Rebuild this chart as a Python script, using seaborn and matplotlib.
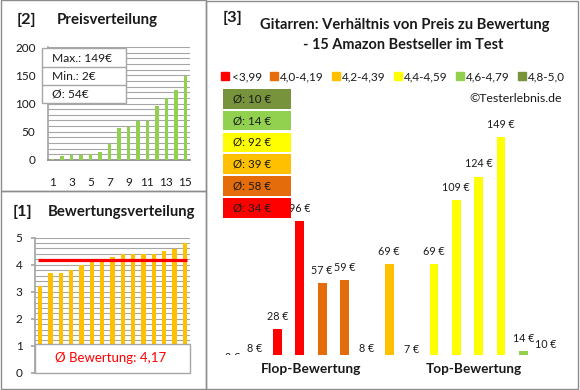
import matplotlib
matplotlib.use("Agg")
import matplotlib.pyplot as plt
from matplotlib.patches import Rectangle
from matplotlib.lines import Line2D
from matplotlib.ticker import MultipleLocator
import seaborn as sns
import pandas as pd

# [3] products ordered by rating -> price in euro and rating class
prices_by_rating = [2, 8, 28, 96, 57, 59, 8, 69, 7, 69, 109, 124, 149, 14, 10]
rating_class = [0, 0, 0, 0, 1, 1, 2, 2, 3, 3, 3, 3, 3, 4, 5]
class_labels = ["<3,99", "4,0-4,19", "4,2-4,39", "4,4-4,59", "4,6-4,79", "4,8-5,0"]
class_colors = ["#FF0000", "#E46C0A", "#FFC000", "#FFFF00", "#92D050", "#77933C"]
class_avg = [34, 58, 39, 92, 14, 10]
group_names = ["Flop-Bewertung", "Top-Bewertung"]

# [1] ratings, sorted
ratings = [3.2, 3.7, 3.7, 3.8, 4.0, 4.1, 4.1, 4.3, 4.4, 4.4, 4.4, 4.4, 4.5, 4.6, 4.8]
avg_rating = 4.17

# [2] prices sorted, x labels
positions = [str(i) for i in range(1, 16)]
prices_sorted = sorted(prices_by_rating)

sns.set_theme(style="white")
plt.rcParams["font.family"] = ["Lato", "DejaVu Sans"]

W, H = 580, 390
TXT = "#1a1a1a"
GRID = "#A6A6A6"
fig = plt.figure(figsize=(W / 100, H / 100), dpi=100)
renderer = fig.canvas.get_renderer()


def box(l, t, r, b):
    return [l / W, 1 - b / H, (r - l) / W, (b - t) / H]


def fit(t, width):
    # scale the font so the text gets the width it has in the original
    w = t.get_window_extent(renderer).width
    t.set_fontsize(t.get_fontsize() * width / w)
    return t


def border(l, t, r, b):
    fig.add_artist(Rectangle((l / W, 1 - b / H), (r - l) / W, (b - t) / H,
                             transform=fig.transFigure, fill=False,
                             ec="#8C8C8C", lw=1))


border(0.5, 0.5, 205.5, 191)
border(0.5, 191, 205.5, 388.5)
border(205.5, 0.5, 578, 388.5)

# ---- [2] Preisverteilung
ax2 = fig.add_axes(box(48, 47, 190, 160))
sns.barplot(x=positions, y=prices_sorted, color="#92D050", width=0.37,
            saturation=1, linewidth=0, ax=ax2)
for p in ax2.patches:
    p.set_zorder(3)
ax2.set_ylim(0, 200)
ax2.set_xlim(-0.5, 14.5)
ax2.yaxis.set_major_locator(MultipleLocator(50))
ax2.yaxis.set_minor_locator(MultipleLocator(10))
ax2.grid(which="both", axis="y", color=GRID, lw=0.8)
ax2.set_axisbelow(True)
ax2.set_xticks(range(0, 15, 2))
ax2.set_xticklabels(positions[::2])
ax2.tick_params(axis="x", length=0, pad=12, labelsize=8.5, labelcolor=TXT)
ax2.tick_params(axis="y", length=0, pad=9, labelsize=8.5, labelcolor=TXT)
ax2.set_xlabel("")
ax2.set_ylabel("")
for s in ["top", "right"]:
    ax2.spines[s].set_visible(False)
ax2.spines["left"].set_color(GRID)
ax2.spines["bottom"].set_color("#8C8C8C")

fit(fig.text(17 / W, 1 - 20 / H, "[2]", fontsize=11, fontweight="bold", color=TXT, va="center"), 20)
fit(fig.text(57 / W, 1 - 20 / H, "Preisverteilung", fontsize=9.5, fontweight="bold",
             color=TXT, va="center"), 101)

# info box
fig.add_artist(Rectangle((42 / W, 1 - 103 / H), 84 / W, 55 / H, transform=fig.transFigure,
                         fc="white", ec=GRID, lw=1))
for yy in [66.5, 84.5]:
    fig.add_artist(Line2D([42 / W, 126 / W], [1 - yy / H] * 2, transform=fig.transFigure,
                          color=GRID, lw=1))
info = [f"Max.: {max(prices_sorted)}€", f"Min.: {min(prices_sorted)}€",
        f"Ø: {sum(prices_sorted) / len(prices_sorted):.0f}€"]
info_fs = None
for txt, yy in zip(info, [58, 76, 94]):
    t = fig.text(52 / W, 1 - yy / H, txt, fontsize=8.5, color=TXT, va="center")
    if info_fs is None:
        info_fs = fit(t, 60).get_fontsize()
    t.set_fontsize(info_fs)

# ---- [1] Bewertungsverteilung
ax1 = fig.add_axes(box(35, 237.7, 190, 372.7))
sns.barplot(x=positions, y=ratings, color="#FFC000", width=0.4, saturation=1,
            linewidth=0, ax=ax1)
for p in ax1.patches:
    p.set_zorder(3)
ax1.set_ylim(0, 5)
ax1.set_xlim(-0.5, 14.5)
ax1.yaxis.set_major_locator(MultipleLocator(1))
ax1.yaxis.set_minor_locator(MultipleLocator(0.2))
ax1.grid(which="both", axis="y", color=GRID, lw=0.8)
ax1.set_axisbelow(True)
ax1.set_xticks([])
ax1.tick_params(axis="y", which="major", length=3, color=GRID, pad=6,
                labelsize=8.5, labelcolor=TXT, left=True)
ax1.tick_params(axis="y", which="minor", length=0)
ax1.set_xlabel("")
ax1.set_ylabel("")
for s in ["top", "right", "bottom"]:
    ax1.spines[s].set_visible(False)
ax1.spines["left"].set_color(GRID)
ax1.hlines(avg_rating, -0.2, 14.2, color="#FF0000", lw=2.3, zorder=4)
ax1.add_patch(Rectangle((0, 0), 1, 1.05 / 5, transform=ax1.transAxes, fc="white",
                        ec=GRID, lw=1, zorder=5, clip_on=False))
fit(ax1.text(0.49, 0.109, "Ø Bewertung: " + f"{avg_rating:.2f}".replace(".", ","),
             transform=ax1.transAxes, ha="center", va="center", color="#FF0000",
             fontsize=9.5, zorder=6), 112)

fit(fig.text(13 / W, 1 - 212 / H, "[1]", fontsize=11, fontweight="bold", color=TXT, va="center"), 20)
fit(fig.text(48 / W, 1 - 212 / H, "Bewertungsverteilung", fontsize=9.5, fontweight="bold",
             color=TXT, va="center"), 147)

# ---- [3] Preis vs Bewertung
df3 = pd.DataFrame({"pos": positions, "price": prices_by_rating,
                    "cls": [class_labels[c] for c in rating_class]})
ax3 = fig.add_axes(box(221.5, 60, 557, 355))
sns.barplot(data=df3, x="pos", y="price", hue="cls", palette=class_colors,
            dodge=False, width=0.39, saturation=1, linewidth=0, legend=False, ax=ax3)
px_per_eur = 1.588
ymin = 11.6
ax3.set_ylim(ymin, ymin + 295 / px_per_eur)
ax3.set_xlim(-0.5, 14.5)
ax3.set_xticks([])
ax3.set_yticks([])
ax3.set_xlabel("")
ax3.set_ylabel("")
sns.despine(ax=ax3, left=True, bottom=True)
for i, v in enumerate(prices_by_rating):
    t = ax3.text(i, v + 8, f"{v} €", ha="center", va="center", fontsize=8, color=TXT)
    t.set_clip_on(True)
    t.set_clip_box(ax3.bbox)
    if v == 149:
        lab_fs = fit(t, 28).get_fontsize()
for t in ax3.texts:
    t.set_fontsize(lab_fs)
for name, xc, wd in zip(group_names, [3.5, 10.8], [100, 96]):
    fit(ax3.text(xc, -0.047, name, transform=ax3.get_xaxis_transform(), ha="center",
                 va="center", fontsize=9.5, fontweight="bold", color=TXT), wd)

fit(fig.text(223 / W, 1 - 18 / H, "[3]", fontsize=11, fontweight="bold", color=TXT, va="center"), 20)
fit(fig.text(404.5 / W, 1 - 25 / H, "Gitarren: Verhältnis von Preis zu Bewertung",
             fontsize=9.5, fontweight="bold", color=TXT, ha="center", va="center"), 289)
fit(fig.text(403.5 / W, 1 - 45 / H, "- 15 Amazon Bestseller im Test",
             fontsize=9.5, fontweight="bold", color=TXT, ha="center", va="center"), 201)
fit(fig.text(562 / W, 1 - 99 / H, "©Testerlebnis.de", fontsize=8.5, color=TXT,
             ha="right", va="center"), 93)

handles = [Line2D([], [], marker="s", linestyle="", color=c, markersize=5.5)
           for c in class_colors]
fig.legend(handles, class_labels, loc="center", bbox_to_anchor=(393.5 / W, 1 - 77 / H),
           ncol=6, frameon=False, fontsize=8.5, handlelength=0.6, handletextpad=0.25,
           columnspacing=0.7, borderpad=0, borderaxespad=0, labelcolor=TXT)

# average boxes, top = best class
box_fs = None
for j, k in enumerate(reversed(range(len(class_labels)))):
    top = 89 + 21.8 * j
    fig.add_artist(Rectangle((223 / W, 1 - (top + 19.5) / H), 68 / W, 19.5 / H,
                             transform=fig.transFigure, fc=class_colors[k], ec="none"))
    t = fig.text(233 / W, 1 - (top + 9.75) / H, f"Ø: {class_avg[k]} €", fontsize=8.5,
                 color=TXT, va="center")
    if box_fs is None:
        box_fs = fit(t, 38).get_fontsize()
    t.set_fontsize(box_fs)

fig.savefig("out.png", dpi=100)
